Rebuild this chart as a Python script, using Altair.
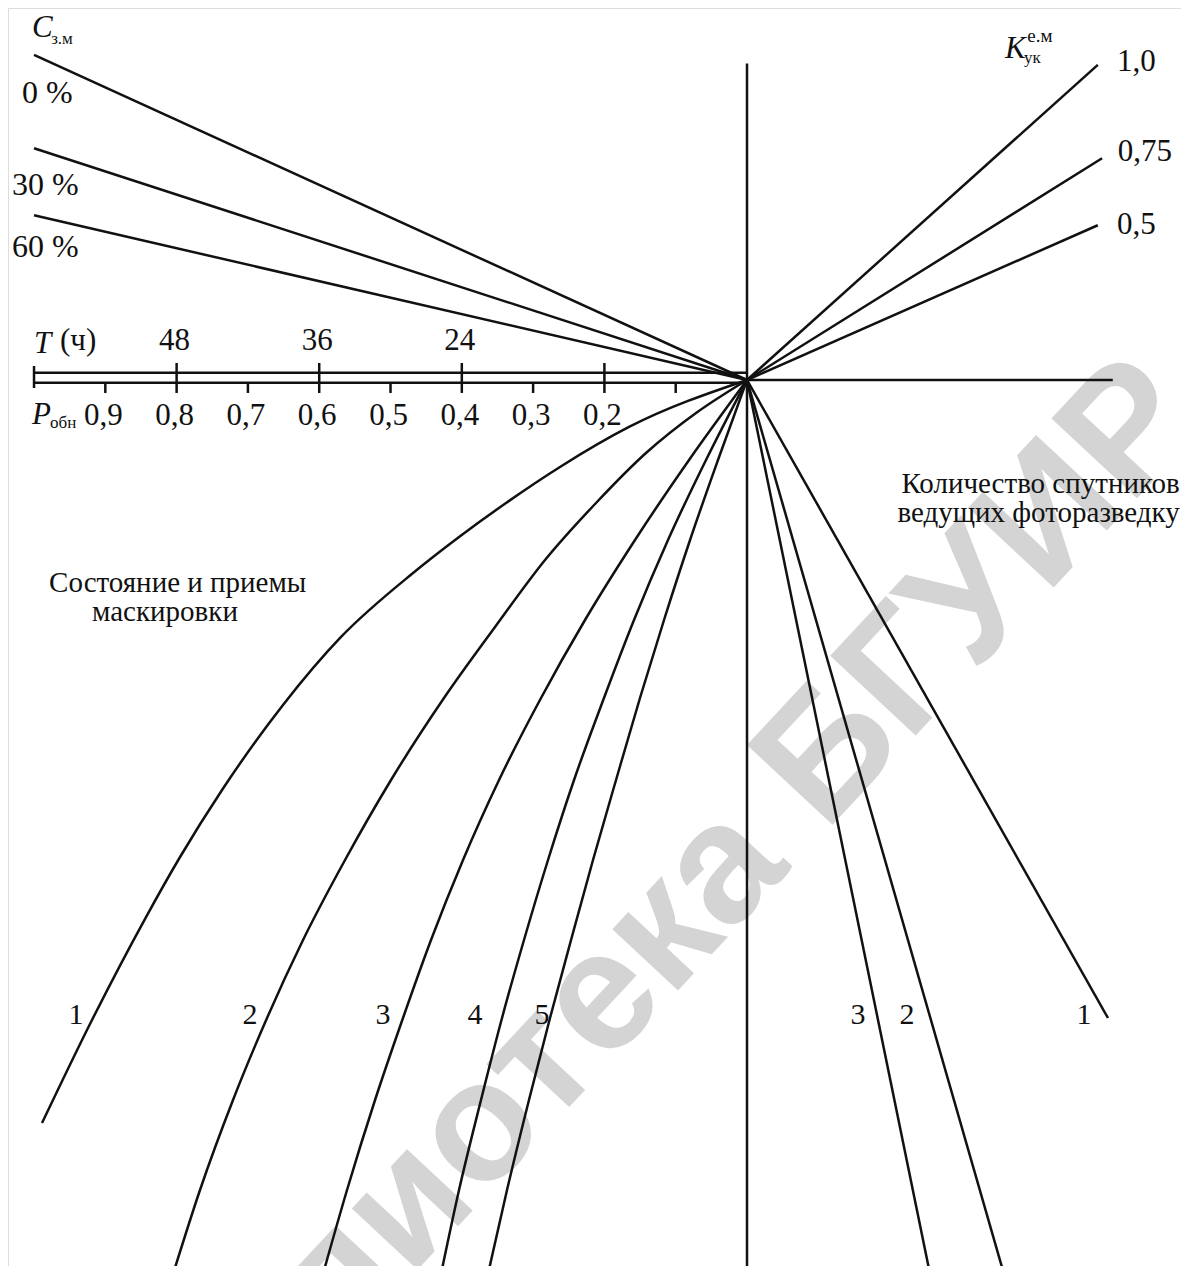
import altair as alt
import pandas as pd

# ---------------- data (nomogram units: 1 unit = P from 0 to 1 along the axis) -------------
# horizontal axis
p_tick_values = [0.9, 0.8, 0.7, 0.6, 0.5, 0.4, 0.3, 0.2, 0.1]
p_label_values = [0.9, 0.8, 0.7, 0.6, 0.5, 0.4, 0.3, 0.2]
p_label_texts = ["0,9", "0,8", "0,7", "0,6", "0,5", "0,4", "0,3", "0,2"]
t_tick_p = [0.8, 0.6, 0.4, 0.2]
t_hours = ["48", "36", "24"]

# C з.м lines (upper left): y where each line leaves the left edge (P = 1)
c_labels = ["0 %", "30 %", "60 %"]
c_start_y = [0.456, 0.325, 0.231]

# K ук lines (upper right): end points
k_labels = ["1,0", "0,75", "0,5"]
k_end_x = [-0.492, -0.498, -0.492]
k_end_y = [0.442, 0.311, 0.217]

# masking curves 1..5 (lower left)
mask_x = {
    "1": [0, 0.1655, 0.2623, 0.3380, 0.4039, 0.4684, 0.5694, 0.6508, 0.7363, 0.7952, 0.8429, 0.9187, 0.9888],
    "2": [0, 0.0715, 0.1417, 0.2118, 0.2833, 0.3534, 0.4250, 0.4993, 0.5638, 0.6227, 0.6732, 0.7209, 0.7672, 0.8050],
    "3": [0, 0.0813, 0.1571, 0.2272, 0.2889, 0.3478, 0.3983, 0.4432, 0.4825, 0.5217, 0.5610, 0.5947],
    "4": [0, 0.0575, 0.1108, 0.1585, 0.2006, 0.2426, 0.2791, 0.3128, 0.3436, 0.3731, 0.4039, 0.4292],
    "5": [0, 0.0407, 0.0799, 0.1164, 0.1501, 0.1837, 0.2160, 0.2468, 0.2763, 0.3058, 0.3366, 0.3633],
}
common_y = [0, -0.1122, -0.2244, -0.3366, -0.4460, -0.5610, -0.6732, -0.7854, -0.8948, -1.0098, -1.1360, -1.2539]
mask_y = {
    "1": [0, -0.0659, -0.1220, -0.1725, -0.2202, -0.2707, -0.3604, -0.4558, -0.5750, -0.6690, -0.7532, -0.8976, -1.0421],
    "2": [0, -0.0463, -0.1024, -0.1725, -0.2525, -0.3464, -0.4460, -0.5610, -0.6732, -0.7854, -0.8948, -1.0098, -1.1360, -1.2539],
    "3": common_y,
    "4": common_y,
    "5": common_y,
}
mask_label_x = [0.941, 0.697, 0.5105, 0.3815, 0.2875]

# satellites lines (lower right): end points
sat_labels = ["3", "2", "1"]
sat_end_x = [-0.2567, -0.3604, -0.5063]
sat_end_y = [-1.2539, -1.2539, -0.8948]
sat_label_x = [-0.1557, -0.2244, -0.4727]

# ---------------- scales ----------------
XS = alt.Scale(domain=[1.0365, -0.6087], nice=False, zero=False)
YS = alt.Scale(domain=[-1.2426, 0.5217], nice=False, zero=False)
W, H = 1173, 1258
INK = "#111111"
SERIF = "Liberation Serif"
LW = 2.5


def X(f="x"):
    return alt.X(f"{f}:Q", scale=XS, axis=None)


def Y(f="y"):
    return alt.Y(f"{f}:Q", scale=YS, axis=None)


# ---------------- straight lines ----------------
rows = []


def seg(name, x0, y0, x1, y1):
    rows.append({"id": name, "o": 0, "x": x0, "y": y0})
    rows.append({"id": name, "o": 1, "x": x1, "y": y1})


for lab, yy in zip(c_labels, c_start_y):
    seg("C" + lab, 1.0, yy, 0.0, 0.0)
for lab, xx, yy in zip(k_labels, k_end_x, k_end_y):
    seg("K" + lab, 0.0, 0.0, xx, yy)
for lab, xx, yy in zip(sat_labels, sat_end_x, sat_end_y):
    seg("S" + lab, 0.0, 0.0, xx, yy)
seg("vert", 0.0, 0.444, 0.0, -1.2539)
seg("axT", 1.0, 0.010, 0.0, 0.010)
seg("axP", 1.0, -0.004, 0.0, -0.004)
seg("axR", 0.0, 0.0, -0.513, 0.0)
straight = pd.DataFrame(rows)

curve_rows = []
for k in mask_x:
    for xx, yy in zip(mask_x[k], mask_y[k]):
        curve_rows.append({"id": k, "x": xx, "y": yy})
curves = pd.DataFrame(curve_rows)

# ticks
tick_rows = [{"x": 1.0, "y": 0.0196, "y2": -0.0112}]
for p in t_tick_p:
    tick_rows.append({"x": p, "y": 0.0238, "y2": -0.0182})
for p in p_tick_values:
    if p not in t_tick_p:
        tick_rows.append({"x": p, "y": -0.004, "y2": -0.0182})
ticks = pd.DataFrame(tick_rows)

# ---------------- layers ----------------
watermark = alt.Chart(pd.DataFrame({"x": [0.175], "y": [-0.835], "t": ["Библиотека БГУИР"]})).mark_text(
    font="Liberation Sans", fontSize=170, fontWeight="bold", color="#d4d4d4", angle=313,
    align="center", baseline="middle"
).encode(x=X(), y=Y(), text="t:N")

line_straight = alt.Chart(straight).mark_line(color=INK, strokeWidth=LW, clip=True).encode(
    x=X(), y=Y(), detail="id:N", order="o:Q")
# curves drawn left-to-right on screen (monotone in screen x)
line_curves = alt.Chart(curves).mark_line(color=INK, strokeWidth=LW, interpolate="monotone", clip=True).encode(
    x=X(), y=Y(), detail="id:N", order=alt.Order("x:Q", sort="descending"))
tick_layer = alt.Chart(ticks).mark_rule(color=INK, strokeWidth=LW).encode(x=X(), y=Y(), y2="y2:Q")


def texts(df, size=28, style="normal", align="center", baseline="middle", dx=0):
    return alt.Chart(pd.DataFrame(df)).mark_text(
        font=SERIF, fontSize=size, fontStyle=style, color=INK,
        align=align, baseline=baseline, dx=dx
    ).encode(x=X(), y=Y(), text="t:N")


tick_lab = texts({"x": p_label_values, "y": [-0.050] * len(p_label_values), "t": p_label_texts}, size=31, dx=-2)
t_lab = texts({"x": t_tick_p[:3], "y": [0.0547] * 3, "t": t_hours}, size=31, dx=-2)
c_lab = texts({"x": [1.017, 1.031, 1.031], "y": [0.4025, 0.2735, 0.1865], "t": c_labels}, size=32, align="left")
k_lab = texts({"x": [-0.519, -0.520, -0.519], "y": [0.446, 0.320, 0.217], "t": k_labels}, size=31, align="left")
mask_lab = texts({"x": mask_label_x, "y": [-0.8906] * 5, "t": list(mask_x.keys())}, size=30)
sat_lab = texts({"x": sat_label_x, "y": [-0.8906] * 3, "t": sat_labels}, size=30)

italic_main = texts({"x": [1.003, 1.0, 1.003, -0.362], "y": [0.494, 0.0505, -0.049, 0.464],
                     "t": ["C", "T", "P", "K"]}, size=31, style="italic", align="left")
subs = texts({"x": [0.976, 0.9775, -0.3885], "y": [0.478, -0.060, 0.452],
              "t": ["з.м", "обн", "ук"]}, size=17, align="left")
sups = texts({"x": [-0.393], "y": [0.482], "t": ["е.м"]}, size=19, align="left")
hours = texts({"x": [0.9635], "y": [0.0547], "t": ["(ч)"]}, size=31, align="left")

right_note = texts({"x": [-0.607, -0.607], "y": [-0.1459, -0.1865],
                    "t": ["Количество спутников", "ведущих фоторазведку"]}, size=29, align="right")
left_note = texts({"x": [0.7985, 0.8163], "y": [-0.2847, -0.3254],
                   "t": ["Состояние и приемы", "маскировки"]}, size=29)

chart = alt.layer(
    watermark, line_straight, line_curves, tick_layer,
    tick_lab, t_lab, c_lab, k_lab, mask_lab, sat_lab,
    italic_main, subs, sups, hours, right_note, left_note
).properties(
    width=W, height=H, padding=0, autosize=alt.AutoSizeParams(type="none")
).configure_view(stroke=None).configure(background="white")

chart.save("out.html", embed_options={"renderer": "svg", "actions": False})
